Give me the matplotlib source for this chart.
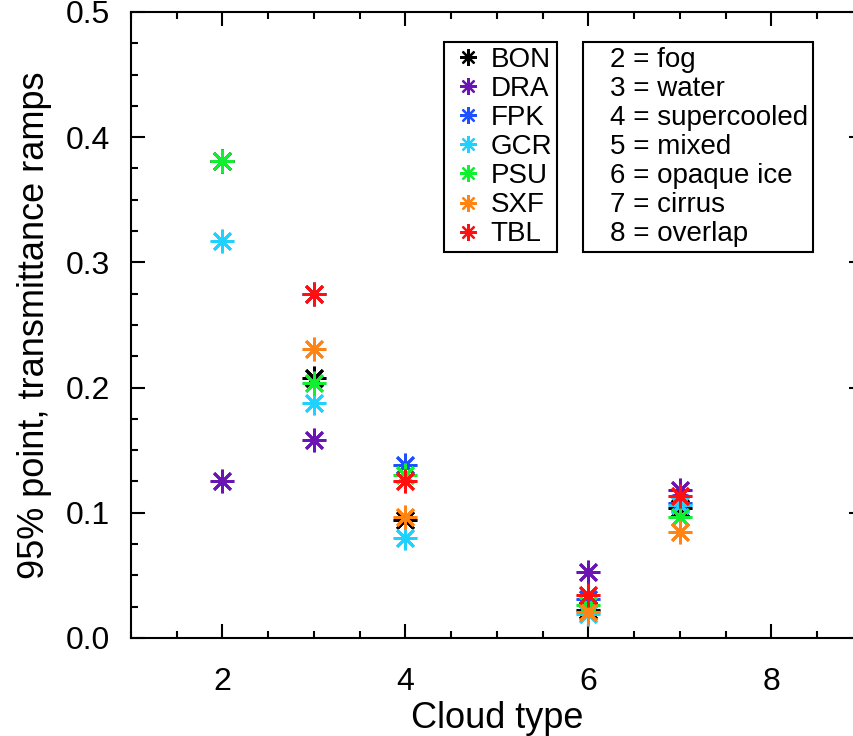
import numpy as np
import matplotlib
matplotlib.use('Agg')
import matplotlib.pyplot as plt
from matplotlib.ticker import MultipleLocator
from matplotlib.lines import Line2D

plt.rcParams['font.family'] = ['Liberation Sans', 'DejaVu Sans']

# cloud type codes along the x axis
cloud_types = [2, 3, 4, 6, 7]
nan = np.nan

# 95% point of the transmittance ramps, per site and cloud type
bon = [0.381, 0.208, 0.094, 0.022, 0.104]
dra = [0.125, 0.158, nan, 0.053, 0.118]
fpk = [nan, 0.275, 0.138, 0.031, 0.108]
gcr = [0.317, 0.188, 0.080, 0.019, 0.106]
psu = [0.381, 0.204, 0.130, 0.026, 0.097]
sxf = [nan, 0.231, 0.097, 0.021, 0.085]
tbl = [nan, 0.275, 0.125, 0.034, 0.113]

sites = ['BON', 'DRA', 'FPK', 'GCR', 'PSU', 'SXF', 'TBL']
site_values = [bon, dra, fpk, gcr, psu, sxf, tbl]
site_colors = ['#000000', '#6a14b4', '#1f50ff', '#1ed2ff', '#10f030', '#ff8414', '#ff1010']

type_names = ['2 = fog', '3 = water', '4 = supercooled', '5 = mixed',
              '6 = opaque ice', '7 = cirrus', '8 = overlap']

star = (8, 2, 0)

fig = plt.figure(figsize=(8.54, 7.36), dpi=100)
ax = fig.add_axes([0.1534, 0.1332, 0.857, 0.8505])

for name, vals, col in zip(sites, site_values, site_colors):
    ax.plot(cloud_types, vals, linestyle='none', marker=star, markersize=17,
            markeredgewidth=2.0, color=col, label=name)

ax.set_xlim(1, 9)
ax.set_ylim(0, 0.5)
ax.xaxis.set_major_locator(MultipleLocator(2))
ax.xaxis.set_minor_locator(MultipleLocator(0.5))
ax.yaxis.set_major_locator(MultipleLocator(0.1))
ax.yaxis.set_minor_locator(MultipleLocator(0.025))
ax.yaxis.set_major_formatter(plt.FormatStrFormatter('%.1f'))

ax.tick_params(which='both', direction='in', top=True, right=True, width=1.5)
ax.tick_params(which='major', length=10, labelsize=23)
ax.tick_params(axis='x', which='major', pad=21)
ax.tick_params(axis='y', which='major', pad=15)
ax.tick_params(which='minor', length=5)
for sp in ax.spines.values():
    sp.set_linewidth(1.5)

ax.set_xlabel('Cloud type', fontsize=26, labelpad=3)
ax.set_ylabel('95% point, transmittance ramps', fontsize=26, labelpad=10)

# site legend
handles = [Line2D([], [], linestyle='none', marker=star, markersize=12,
                  markeredgewidth=1.6, color=c) for c in site_colors]
leg1 = ax.legend(handles, sites, loc='upper left', bbox_to_anchor=(444 / 854, 1 - 42 / 736),
                 bbox_transform=fig.transFigure, fontsize=20, frameon=True,
                 fancybox=False, edgecolor='black', handlelength=1.4,
                 handletextpad=0.1, labelspacing=0.11, borderpad=0.18,
                 borderaxespad=0, framealpha=1)
leg1.get_frame().set_linewidth(1.5)
ax.add_artist(leg1)

# cloud type key
blank = [Line2D([], [], linestyle='none') for _ in type_names]
leg2 = ax.legend(blank, type_names, loc='upper left', bbox_to_anchor=(583 / 854, 1 - 42 / 736),
                 bbox_transform=fig.transFigure, fontsize=20, frameon=True,
                 fancybox=False, edgecolor='black', handlelength=0.3,
                 handletextpad=0.5, labelspacing=0.11, borderpad=0.18,
                 borderaxespad=0, framealpha=1)
leg2.get_frame().set_linewidth(1.5)

fig.savefig('out.png', dpi=100)
